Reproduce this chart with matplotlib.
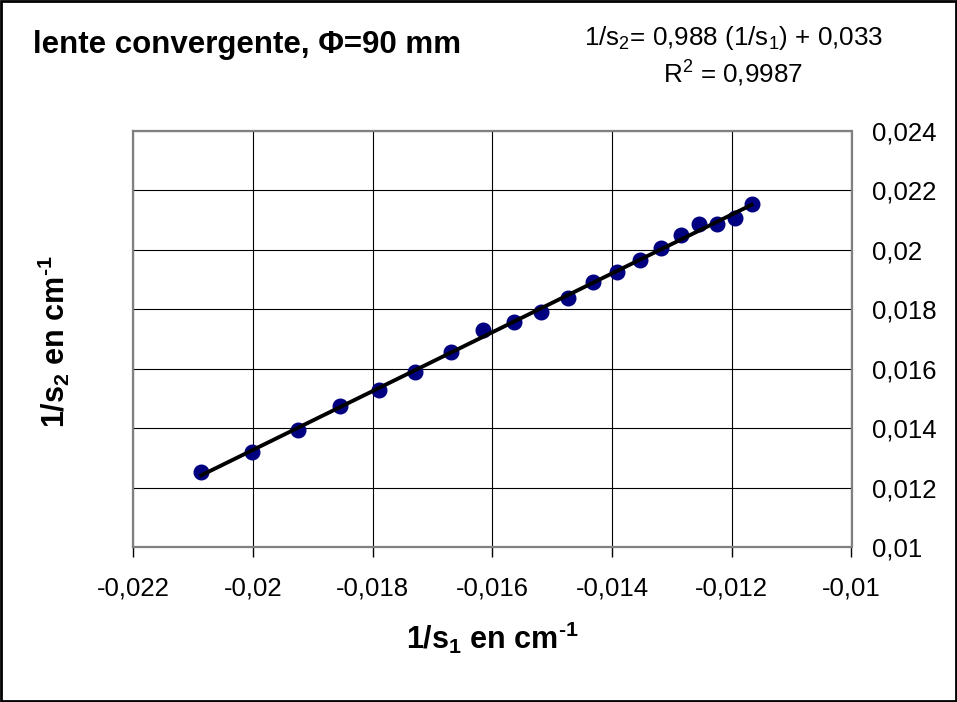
import matplotlib

matplotlib.use("Agg")
import matplotlib.pyplot as plt
import numpy as np
from matplotlib.patches import Rectangle

# measured points (1/s1, 1/s2) in cm^-1
inv_s1 = [-0.02086, -0.02002, -0.01925, -0.01855, -0.01789, -0.01729, -0.01669,
          -0.01615, -0.01564, -0.01518, -0.01474, -0.01431, -0.01391, -0.01354,
          -0.01318, -0.01284, -0.01254, -0.01224, -0.01194, -0.01167]
inv_s2 = [0.01252, 0.01319, 0.01394, 0.01474, 0.01528, 0.01589, 0.01656,
          0.01730, 0.01756, 0.01790, 0.01838, 0.01892, 0.01926, 0.01966,
          0.02005, 0.02049, 0.02088, 0.02086, 0.02106, 0.02154]

x_ticks = [-0.022, -0.020, -0.018, -0.016, -0.014, -0.012, -0.010]
y_ticks = [0.010, 0.012, 0.014, 0.016, 0.018, 0.020, 0.022, 0.024]

title = "lente convergente, \u03a6=90 mm"
equation = "1/s$_2$= 0,988 (1/s$_1$) + 0,033"
r_squared = "R$^2$ = 0,9987"
x_label = "1/s$_\\mathbf{1}$ en cm$^\\mathbf{\u20101}$"
y_label = "1/s$_\\mathbf{2}$ en cm$^\\mathbf{\u20101}$"

plt.rcParams["font.family"] = ["Liberation Sans", "DejaVu Sans"]
plt.rcParams["mathtext.fontset"] = "custom"
plt.rcParams["mathtext.rm"] = "Liberation Sans"
plt.rcParams["mathtext.it"] = "Liberation Sans"
plt.rcParams["mathtext.bf"] = "Liberation Sans:bold"


def excel_label(v):
    # Excel style: decimal comma, no trailing zeros, plain hyphen
    return f"{v:.3f}".rstrip("0").replace(".", ",")


fig = plt.figure(figsize=(9.57, 7.02), dpi=100)
ax = fig.add_axes([133 / 957, 1 - 547 / 702, (851.5 - 133) / 957, (547 - 131) / 702])

x = np.array(inv_s1)
y = np.array(inv_s2)
slope, intercept = np.polyfit(x, y, 1)
xl = np.array([x.min(), x.max()])

ax.plot(x, y, "o", color="#000080", markersize=10.5, zorder=3)
ax.plot(xl, slope * xl + intercept, color="black", linewidth=2.8, zorder=4)

ax.set_xlim(x_ticks[0], x_ticks[-1])
ax.set_ylim(y_ticks[0], y_ticks[-1])
ax.set_xticks(x_ticks)
ax.set_yticks(y_ticks)
ax.set_xticklabels([excel_label(v) for v in x_ticks], fontsize=18.5)
ax.set_yticklabels([excel_label(v) for v in y_ticks], fontsize=18.5)
ax.yaxis.tick_right()
ax.tick_params(axis="y", length=0, pad=15)
ax.tick_params(axis="x", direction="out", length=7, width=1, pad=14)
ax.grid(True, color="black", linewidth=0.8)
ax.set_axisbelow(True)
for sp in ax.spines.values():
    sp.set_color("#808080")
    sp.set_linewidth(1.6)

ax.set_xlabel(x_label, fontsize=22, fontweight="bold", labelpad=14)
fig.text(54 / 957, 1 - 342 / 702, y_label, fontsize=22,
         fontweight="bold", rotation=90, ha="center", va="center")

fig.text(33 / 957, 1 - 45 / 702, title, fontsize=22.5, fontweight="bold", ha="left", va="center")
fig.text(734 / 957, 1 - 38 / 702, equation, fontsize=18.7, ha="center", va="center")
fig.text(733 / 957, 1 - 74 / 702, r_squared, fontsize=18.7, ha="center", va="center")

fig.patches.append(Rectangle((0.0015, 0.002), 0.997, 0.996, transform=fig.transFigure,
                             fill=False, edgecolor="black", linewidth=2))

fig.savefig("out.png", dpi=100)
